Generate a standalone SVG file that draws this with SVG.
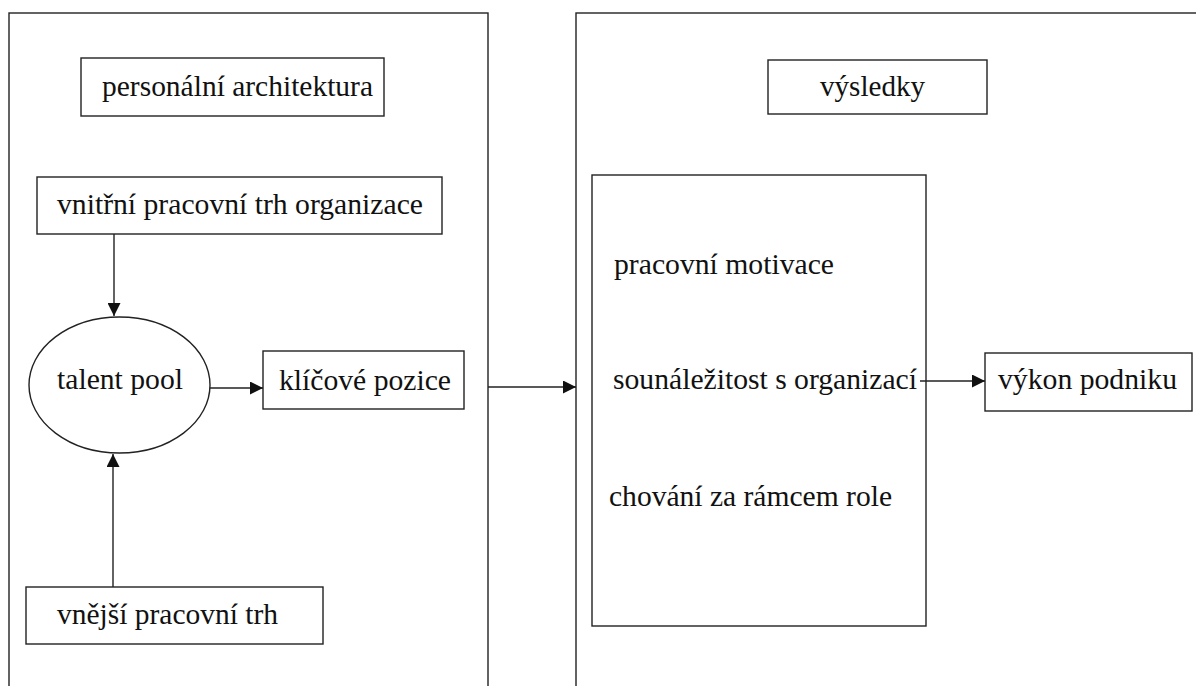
<svg xmlns="http://www.w3.org/2000/svg" width="1196" height="686" viewBox="0 0 1196 686">
<style>
.box{fill:none;stroke:#222;stroke-width:1.4}
.t{font-family:"Liberation Serif",serif;font-size:30px;fill:#111}
.ln{fill:none;stroke:#222;stroke-width:1.4}
</style>
<defs>
<marker id="ah" viewBox="0 0 13 13" refX="13" refY="6.5" markerWidth="13" markerHeight="13" markerUnits="userSpaceOnUse" orient="auto">
<path d="M0,0 L13,6.5 L0,13 Z" fill="#111"/>
</marker>
</defs>
<rect width="1196" height="686" fill="#fff"/>
<g id="panel-left"><rect class="box" x="9" y="13" width="479" height="700"/></g>
<g id="panel-right"><rect class="box" x="576" y="13" width="660" height="700"/></g>
<g id="personalni"><rect class="box" x="81" y="58" width="303" height="58"/><text class="t" x="102" y="96" textLength="271" lengthAdjust="spacingAndGlyphs">personální architektura</text></g>
<g id="vnitrni"><rect class="box" x="37" y="177" width="405" height="57"/><text class="t" x="57" y="214" textLength="366" lengthAdjust="spacingAndGlyphs">vnitřní pracovní trh organizace</text></g>
<g id="talent"><ellipse class="box" cx="119.5" cy="385" rx="90.5" ry="68"/><text class="t" x="57" y="389" textLength="126" lengthAdjust="spacingAndGlyphs">talent pool</text></g>
<g id="klicove"><rect class="box" x="263" y="351" width="201" height="58"/><text class="t" x="279" y="390" textLength="172" lengthAdjust="spacingAndGlyphs">klíčové pozice</text></g>
<g id="vnejsi"><rect class="box" x="26" y="587" width="297" height="57"/><text class="t" x="57" y="624" textLength="221" lengthAdjust="spacingAndGlyphs">vnější pracovní trh</text></g>
<g id="vysledky"><rect class="box" x="768" y="60" width="219" height="54"/><text class="t" x="820" y="96" textLength="105" lengthAdjust="spacingAndGlyphs">výsledky</text></g>
<g id="vysledky-list"><rect class="box" x="592" y="175" width="334" height="451"/>
<text class="t" x="614" y="274" textLength="220" lengthAdjust="spacingAndGlyphs">pracovní motivace</text>
<text class="t" x="613" y="389" textLength="304" lengthAdjust="spacingAndGlyphs">sounáležitost s organizací</text>
<text class="t" x="609" y="506" textLength="283" lengthAdjust="spacingAndGlyphs">chování za rámcem role</text></g>
<g id="vykon"><rect class="box" x="985" y="353" width="207" height="58"/><text class="t" x="998" y="389" textLength="179" lengthAdjust="spacingAndGlyphs">výkon podniku</text></g>
<g id="connectors">
<line class="ln" x1="114" y1="234" x2="114" y2="316" marker-end="url(#ah)"/>
<line class="ln" x1="113" y1="587" x2="113" y2="454" marker-end="url(#ah)"/>
<line class="ln" x1="210" y1="388" x2="263" y2="388" marker-end="url(#ah)"/>
<line class="ln" x1="488" y1="387" x2="576" y2="387" marker-end="url(#ah)"/>
<line class="ln" x1="920" y1="381" x2="985" y2="381" marker-end="url(#ah)"/>
</g>
</svg>
